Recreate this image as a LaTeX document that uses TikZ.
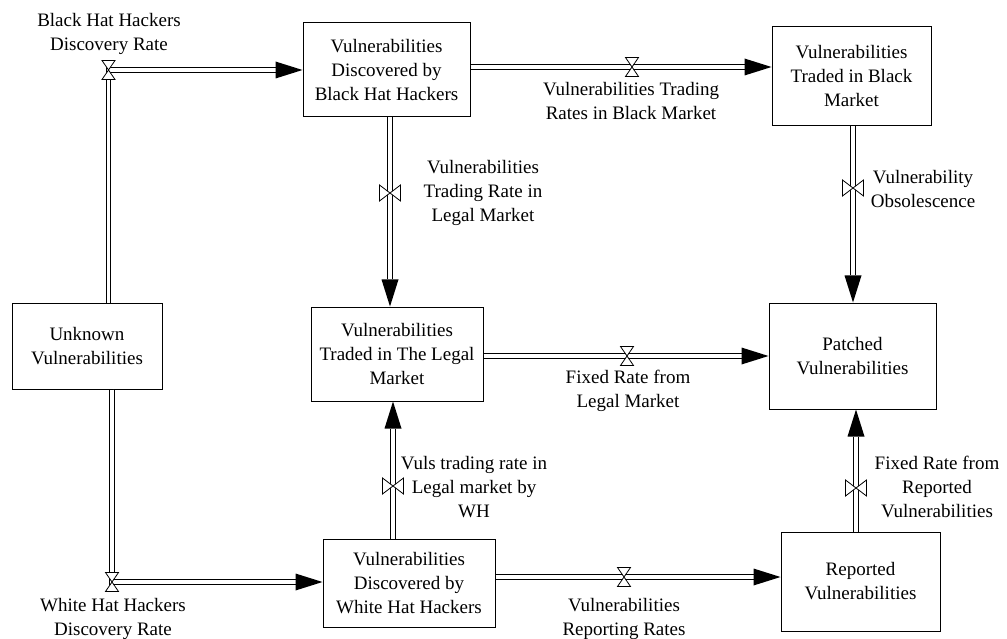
\documentclass[tikz,border=0pt]{standalone}
\usepackage{fontspec}
\setmainfont{Liberation Serif}
\usetikzlibrary{arrows.meta,calc}
\tikzset{
  stock/.style 2 args={draw=black, line width=1pt, align=center, inner sep=0pt,
    minimum width=#1pt, minimum height=#2pt},
  pipe/.style={draw=black, double=white, line width=0.9pt, double distance=3.6pt,
    -{Triangle[length=27pt,width=17pt,line width=0pt]}},
  flowlabel/.style={align=center, inner sep=0pt},
  hvalve/.pic={\draw[line width=0.8pt, fill=white] (-6.5,-9.5) -- (6.5,-9.5) -- (-6.5,9.5) -- (6.5,9.5) -- cycle;},
  vvalve/.pic={\draw[line width=0.8pt, fill=white] (-10.5,-8) -- (-10.5,8) -- (10.5,-8) -- (10.5,8) -- cycle;}
}
\begin{document}
\begin{tikzpicture}[x=1pt, y=-1pt, font=\fontsize{19}{24}\selectfont]
\useasboundingbox (0,0) rectangle (1007,639);

% stocks
\node[stock={167}{94}]  (vbh)      at (386.5,70)  {Vulnerabilities\\Discovered by\\Black Hat Hackers};
\node[stock={159}{99}]  (vtbm)     at (851.5,76.5) {Vulnerabilities\\Traded in Black\\Market};
\node[stock={150}{86}]  (unknown)  at (87,346)    {Unknown\\Vulnerabilities};
\node[stock={172}{94}]  (vtlm)     at (397,354)   {Vulnerabilities\\Traded in The Legal\\Market};
\node[stock={167}{106}] (patched)  at (852.5,356) {Patched\\Vulnerabilities};
\node[stock={172}{88}]  (vwh)      at (409,583)   {Vulnerabilities\\Discovered by\\White Hat Hackers};
\node[stock={159}{99}]  (reported) at (860.5,581.5) {Reported\\Vulnerabilities};

% valve positions
\coordinate (cbh) at (108.5,70);
\coordinate (cwh) at (112,582);
\coordinate (ctb) at (632,67);
\coordinate (ctl) at (390,193);
\coordinate (cob) at (853,188);
\coordinate (cfl) at (627,356);
\coordinate (cwl) at (393,486);
\coordinate (crr) at (624,577);
\coordinate (cfr) at (856,488);

% pipes
\draw[pipe] (unknown.north -| cbh) |- (vbh.west |- cbh);
\draw[pipe] (unknown.south -| cwh) |- (vwh.west |- cwh);
\draw[pipe] (vbh.east |- ctb) -- (vtbm.west |- ctb);
\draw[pipe] (vbh.south -| ctl) -- (vtlm.north -| ctl);
\draw[pipe] (vtbm.south -| cob) -- (patched.north -| cob);
\draw[pipe] (vtlm.east |- cfl) -- (patched.west |- cfl);
\draw[pipe] (vwh.north -| cwl) -- (vtlm.south -| cwl);
\draw[pipe] (vwh.east |- crr) -- (reported.west |- crr);
\draw[pipe] (reported.north -| cfr) -- (patched.south -| cfr);

% valves
\pic at (cbh) {hvalve};
\pic at (cwh) {hvalve};
\pic at (ctb) {hvalve};
\pic at (cfl) {hvalve};
\pic at (crr) {hvalve};
\pic at (ctl) {vvalve};
\pic at (cob) {vvalve};
\pic at (cwl) {vvalve};
\pic at (cfr) {vvalve};

% labels
\node[flowlabel] (lbh) at (109,34)  {Black Hat Hackers\\Discovery Rate};
\node[flowlabel] (lwh) at (113,619) {White Hat Hackers\\Discovery Rate};
\node[flowlabel] (ltb) at (631,101) {Vulnerabilities Trading\\Rates in Black Market};
\node[flowlabel] (ltl) at (483,193) {Vulnerabilities\\Trading Rate in\\Legal Market};
\node[flowlabel] (lob) at (923,189) {Vulnerability\\Obsolescence};
\node[flowlabel] (lfl) at (628,391) {Fixed Rate from\\Legal Market};
\node[flowlabel] (lwl) at (474,487) {Vuls trading rate in\\Legal market by\\WH};
\node[flowlabel] (lfr) at (937,487) {Fixed Rate from\\Reported\\Vulnerabilities};
\node[flowlabel] (lrr) at (624,619) {Vulnerabilities\\Reporting Rates};
\end{tikzpicture}
\end{document}
